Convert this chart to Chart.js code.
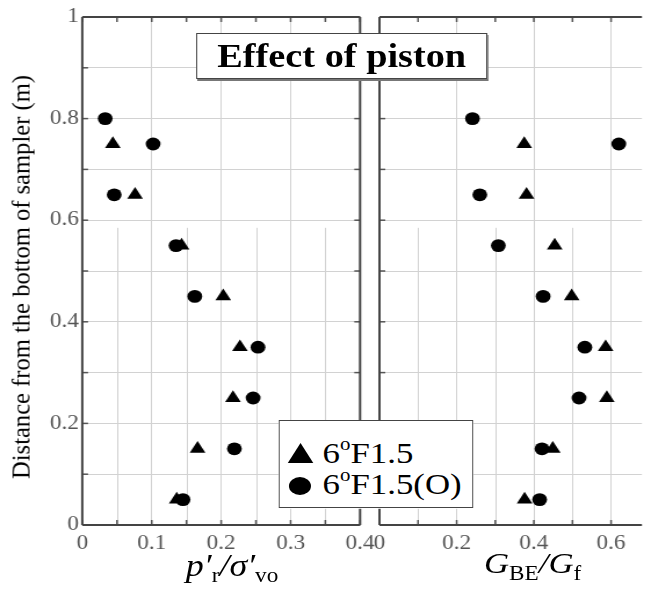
<!DOCTYPE html>
<html>
<head>
<meta charset="utf-8">
<script src="https://cdn.jsdelivr.net/npm/chart.js@4/dist/chart.umd.min.js"></script>
<style>
  body { margin: 0; background: #fff; overflow: hidden; }
  #wrap { position: relative; width: 561px; height: 590px; transform: scaleX(1.1604); transform-origin: 0 0; font-family: "Liberation Serif", "Times New Roman", serif; }
  canvas { position: absolute; left: 0; top: 0; }
  .ytitle { position: absolute; left: 19px; top: 277px; font-size: 21px; white-space: nowrap;
    transform: translate(-50%, -50%) rotate(-90deg) scaleX(1.17); }
  .xtitle { position: absolute; white-space: nowrap; transform: translateX(-50%); font-style: italic; }
  .xtitle .sub { font-style: normal; position: relative; }
  .box { position: absolute; background: #fff; border: 1px solid #444; box-sizing: border-box; }
  .title { left: 169px; top: 33px; width: 251px; height: 46px; box-shadow: 1px 2px 0 #777;
    display: flex; align-items: center; justify-content: center; font-weight: bold; font-size: 33px; }
  .legend { left: 240px; top: 420px; width: 168px; height: 88px; }
  .legend .row { position: absolute; left: 37px; font-size: 30px; line-height: 30px; white-space: nowrap; }
  .legend .sup { font-size: 18px; position: relative; top: -13px; }
  .tri { position: absolute; left: 7px; top: 22px; width: 0; height: 0;
    border-left: 11px solid transparent; border-right: 11px solid transparent; border-bottom: 20px solid #000; }
  .dot { position: absolute; left: 8px; top: 56px; width: 19px; height: 18px; border-radius: 50%; background: #000; }
</style>
</head>
<body>
<div id="wrap">
  <canvas id="left" width="561" height="590"></canvas>
  <canvas id="right" width="561" height="590"></canvas>
  <div class="ytitle">Distance from the bottom of sampler (m)</div>
  <div class="xtitle" style="left:200px; top:550px; font-size:31px; line-height:31px;">p′<span class="sub" style="font-size:20px; top:6px;">r</span>/σ′<span class="sub" style="font-size:20px; top:6px;">vo</span></div>
  <div class="xtitle" style="left:459px; top:548px; font-size:30px; line-height:30px;">G<span class="sub" style="font-size:20px; top:7px;">BE</span>/G<span class="sub" style="font-size:20px; top:7px;">f</span></div>
  <div class="box title">Effect of piston</div>
  <div class="box legend">
    <div class="tri"></div>
    <div class="row" style="top:17px;">6<span class="sup">o</span>F1.5</div>
    <div class="dot"></div>
    <div class="row" style="top:48px;">6<span class="sup">o</span>F1.5(O)</div>
  </div>
</div>
<script>
// depth of each point (m)
const distTri = [0.75, 0.65, 0.55, 0.45, 0.35, 0.25, 0.15, 0.05];
const distCir = [0.80, 0.75, 0.65, 0.55, 0.45, 0.35, 0.25, 0.15, 0.05];
// p'r / sigma'vo
const pTri = [0.044, 0.076, 0.143, 0.203, 0.227, 0.217, 0.166, 0.136];
const pCir = [0.033, 0.102, 0.046, 0.135, 0.162, 0.253, 0.246, 0.219, 0.145];
// G_BE / G_f
const gTri = [0.375, 0.381, 0.454, 0.498, 0.586, 0.589, 0.449, 0.376];
const gCir = [0.241, 0.620, 0.260, 0.308, 0.424, 0.532, 0.517, 0.421, 0.415];
// axis ticks
const pTicks = [0, 0.1, 0.2, 0.3, 0.4];
const pMinor = [0.05, 0.15, 0.25, 0.35];
const gTicks = [0, 0.2, 0.4, 0.6];
const gMinor = [0.1, 0.3, 0.5];
const seriesNames = ['6°F1.5', '6°F1.5(O)'];

const tickFont = { family: "'Liberation Serif', 'Times New Roman', serif", size: 20 };
const gridColor = '#d2d2d2';

function line(ctx, x1, y1, x2, y2) {
  ctx.beginPath(); ctx.moveTo(x1, y1); ctx.lineTo(x2, y2); ctx.stroke();
}

// minor grid (lower part only), inward tick marks and the frame
const framePlugin = {
  id: 'frame',
  beforeDatasetsDraw(chart, args, o) {
    const { ctx, chartArea: a, scales: { x, y } } = chart;
    ctx.save();
    ctx.strokeStyle = gridColor; ctx.lineWidth = 1;
    const yFrom = y.getPixelForValue(o.minorFrom);
    o.minor.forEach(v => {
      const px = Math.round(x.getPixelForValue(v)) + 0.5;
      line(ctx, px, yFrom, px, a.bottom);
    });
    ctx.strokeStyle = '#555'; ctx.lineWidth = 1.5;
    o.major.concat(o.minor).forEach(v => {
      const px = x.getPixelForValue(v);
      line(ctx, px, a.top, px, a.top + 5);
      line(ctx, px, a.bottom, px, a.bottom - 5);
    });
    y.ticks.forEach(t => {
      const py = y.getPixelForValue(t.value);
      if (o.sides.includes('left')) line(ctx, a.left, py, a.left + 5, py);
      if (o.sides.includes('right')) line(ctx, a.right, py, a.right - 5, py);
    });
    ctx.strokeStyle = '#444'; ctx.lineWidth = 2;
    if (o.sides.includes('top')) line(ctx, a.left, a.top, a.right, a.top);
    if (o.sides.includes('bottom')) line(ctx, a.left, a.bottom, a.right, a.bottom);
    if (o.sides.includes('left')) line(ctx, a.left, a.top, a.left, a.bottom);
    if (o.sides.includes('right')) line(ctx, a.right, a.top, a.right, a.bottom);
    ctx.restore();
  }
};

function pts(xs, ys) { return xs.map((v, i) => ({ x: v, y: ys[i] })); }

function makeChart(id, cfg) {
  return new Chart(document.getElementById(id), {
    type: 'scatter',
    data: {
      datasets: [
        { label: seriesNames[0], data: pts(cfg.tri, distTri), pointStyle: 'triangle', pointRadius: 7.8, backgroundColor: '#000', borderWidth: 0 },
        { label: seriesNames[1], data: pts(cfg.cir, distCir), pointStyle: 'circle', pointRadius: 6.4, backgroundColor: '#000', borderWidth: 0 }
      ]
    },
    options: {
      responsive: false,
      animation: false,
      devicePixelRatio: 1,
      layout: { padding: cfg.padding },
      plugins: {
        legend: { display: false },
        tooltip: { enabled: false },
        frame: { minor: cfg.minor, major: cfg.ticks, minorFrom: 0.585, sides: cfg.sides }
      },
      scales: {
        x: {
          type: 'linear', min: 0, max: cfg.max,
          afterBuildTicks: s => { s.ticks = cfg.ticks.map(v => ({ value: v })); },
          afterFit: s => { s.height = 30; },
          grid: { color: gridColor, drawTicks: false },
          border: { display: false },
          ticks: { font: tickFont, color: '#555', padding: 7, maxRotation: 0, autoSkip: false,
            callback: v => String(+v.toFixed(2)) }
        },
        y: {
          type: 'linear', min: 0, max: 1,
          afterFit: s => { s.width = cfg.yWidth; },
          grid: { color: gridColor, drawTicks: false },
          border: { display: false },
          ticks: { display: cfg.yLabels, stepSize: 0.1, font: tickFont, color: '#555', padding: 3,
            callback: v => Math.round(v * 10) % 2 === 0 ? String(+v.toFixed(1)) : '' }
        }
      }
    },
    plugins: [framePlugin]
  });
}

makeChart('left', {
  tri: pTri, cir: pCir, max: 0.4, ticks: pTicks, minor: pMinor,
  padding: { left: 0, right: 250.7, top: 17, bottom: 35 },
  yWidth: 70.9, yLabels: true, sides: ['top', 'bottom', 'left', 'right']
});
makeChart('right', {
  tri: gTri, cir: gCir, max: 0.68, ticks: gTicks, minor: gMinor,
  padding: { left: 327, right: 0, top: 17, bottom: 35 },
  yWidth: 0, yLabels: false, sides: ['top', 'bottom', 'left']
});
</script>
</body>
</html>
